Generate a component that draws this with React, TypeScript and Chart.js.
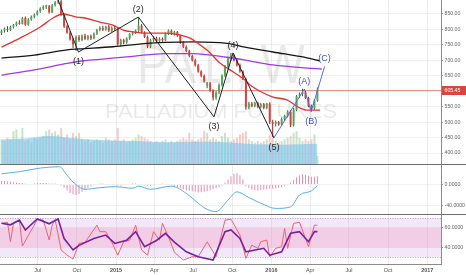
import React, { useEffect, useRef } from 'react';
import { Chart, registerables } from 'chart.js';

Chart.register(...registerables);

const FAMILY = 'Arial, "Liberation Sans", Helvetica, sans-serif';

// ---------------- data ----------------
const FIRST_WEEK = '2014-04-07';
const X_MIN = -0.51;
const X_MAX = 147.47;

const opens = [
  788, 796, 802, 798, 808, 814, 822, 818, 837, 815,
  832, 841, 848, 858, 868, 873, 876, 855, 878, 888,
  891, 847, 810, 790, 768, 752, 775, 766, 780, 770,
  778, 771, 786, 798, 805, 800, 809, 796, 805, 802,
  752, 765, 758, 771, 785, 790, 796, 812, 790, 776,
  745, 765, 772, 762, 770, 765, 786, 796, 786, 792,
  780, 758, 744, 730, 714, 700, 684, 664, 650, 618,
  626, 602, 580, 596, 620, 650, 680, 705, 716, 700,
  684, 664, 640, 548, 560, 552, 562, 550, 558, 546,
  560, 500, 494, 500, 492, 510, 520, 534, 490, 540,
  584, 590, 598, 578, 552, 545, 570,
];
const highs = [
  800, 806, 810, 812, 818, 826, 830, 840, 842, 836,
  845, 852, 862, 872, 878, 880, 879, 882, 892, 898,
  895, 852, 815, 795, 773, 780, 782, 784, 786, 782,
  784, 790, 802, 810, 812, 812, 814, 810, 812, 806,
  770, 770, 775, 788, 795, 800, 838, 818, 794, 780,
  770, 778, 776, 775, 774, 790, 800, 800, 796, 795,
  783, 762, 748, 734, 718, 705, 688, 668, 654, 630,
  630, 606, 600, 625, 655, 685, 710, 724, 720, 705,
  690, 668, 644, 566, 565, 566, 566, 562, 562, 563,
  564, 508, 505, 504, 515, 524, 538, 538, 546, 588,
  596, 608, 601, 582, 556, 575, 612,
];
const lows = [
  782, 790, 792, 795, 803, 810, 815, 816, 812, 812,
  828, 836, 845, 854, 863, 866, 852, 853, 874, 882,
  844, 805, 786, 764, 740, 730, 760, 762, 766, 765,
  766, 768, 782, 794, 795, 796, 792, 792, 796, 748,
  745, 752, 754, 767, 780, 785, 792, 788, 772, 740,
  740, 760, 757, 758, 760, 762, 782, 782, 780, 776,
  754, 740, 726, 710, 696, 680, 660, 645, 628, 610,
  598, 570, 572, 590, 615, 645, 675, 698, 696, 680,
  660, 636, 540, 542, 548, 548, 545, 545, 542, 542,
  494, 452, 486, 488, 488, 504, 515, 484, 486, 536,
  578, 584, 575, 548, 534, 540, 566,
];
const closes = [
  796, 802, 798, 808, 814, 822, 818, 836, 815, 832,
  841, 848, 858, 868, 873, 877, 855, 878, 888, 893,
  847, 810, 790, 768, 752, 775, 766, 780, 770, 778,
  771, 786, 798, 805, 800, 809, 796, 805, 802, 752,
  765, 758, 771, 785, 790, 796, 812, 790, 776, 745,
  765, 772, 762, 770, 765, 786, 796, 786, 792, 780,
  758, 744, 730, 714, 700, 684, 664, 650, 632, 626,
  602, 580, 596, 620, 650, 680, 705, 716, 700, 684,
  664, 640, 548, 560, 552, 562, 550, 558, 546, 560,
  500, 494, 500, 492, 510, 520, 534, 490, 540, 584,
  590, 598, 578, 552, 545, 570, 605.45,
];
const volumes = [
  15, 14, 16, 15, 20, 21, 15, 22, 14, 15,
  13, 16, 15, 16, 17, 20, 21, 19, 20, 18,
  22, 16, 18, 15, 19, 17, 19, 15, 14, 15,
  13, 14, 15, 14, 13, 16, 15, 14, 15, 22,
  14, 15, 13, 14, 15, 16, 18, 17, 16, 15,
  14, 13, 14, 13, 14, 15, 13, 14, 13, 14,
  15, 16, 15, 19, 15, 14, 15, 16, 20, 19,
  15, 16, 15, 14, 17, 19, 16, 14, 15, 16,
  18, 19, 20, 15, 14, 13, 14, 13, 14, 15,
  18, 16, 14, 13, 14, 15, 16, 17, 19, 20,
  16, 14, 15, 14, 15, 18, 5,
];
const volMaWeeks = [0, 8, 16, 25, 35, 45, 55, 65, 75, 85, 95, 106];
const volMaValues = [15, 15.5, 17, 15.5, 14.5, 14, 13.3, 13.5, 13.2, 12, 11.8, 12.3];

const redMaWeeks = [0, 6.2, 13, 17.3, 20.6, 25.3, 28, 33, 37.4, 40.8, 44, 48.8, 54.9, 59.9, 63.3, 66.6, 70, 73.3, 76.7, 81.7, 83.4, 86.7, 91.1, 95.8, 99.5, 102.5, 106.9];
const redMaValues = [743, 772, 808, 837, 850, 840, 837, 824, 814, 798, 792, 788, 788, 782, 772, 750, 724, 691, 669, 636, 620, 600, 581, 572, 549, 539, 539];
const blackMaWeeks = [0, 11, 22, 26.3, 37.4, 48.8, 54.9, 64.3, 75.7, 81.7, 91.1, 102.5, 106.9];
const blackMaValues = [707, 717, 734, 737, 744, 755, 758, 760, 755, 743, 727, 708, 698];
const purpleMaWeeks = [0, 11, 22, 26.3, 33, 44, 54.9, 64.3, 75.7, 81.7, 91.1, 102.5, 107.5];
const purpleMaValues = [652, 669, 690, 697, 703, 713, 722, 722, 710, 701, 685, 675, 672];

const waveWeeks = [18.8, 25.8, 45.9, 71.3, 77.7, 91.4];
const waveValues = [900, 727, 840, 517, 724, 449];
const waveLabels = ['', '(1)', '(2)', '(3)', '(4)', '(5)'];
const waveSides = [0, 1, -1, 1, -1, 1];
const abcWeeks = [91.4, 101.6, 103.9, 108.4];
const abcValues = [449, 607, 534, 680];
const abcLabels = ['', '(A)', '(B)', '(C)'];
const abcSides = [0, -1, 1, -1];

const LAST_PRICE = 605.45;
const priceTicks = [400, 450, 500, 550, 600, 650, 700, 750, 800, 850];

const macdWeeks = [0, 6, 13, 19.5, 22, 24, 28, 33, 38, 44, 46, 50, 57, 62, 66, 69, 72, 76, 79, 83, 87, 92, 97, 100, 104, 106];
const macdValues = [21, 25, 32, 34.5, 18, 5, -9, -6, -4, -7, -3, -9, -3, -17, -36, -48, -52, -30, -14, -25, -36, -46, -43, -20, -12, -2];
const macdHist = [
  7, 7, 6, 6, 5,
  4, 3, 3, 2, 1, 1,
  2, 3, 3, 3, 3, 2, 2, 2, 1,
  -2,
  -6, -11, -16, -19, -20, -18, -14, -10, -6,
  -3, -1, 1, 2, 2, 1, 0,
  1, -1, -2, -2, -1, 0, 1, 2, 2, 1, 0, -1, -2, -2, -1, 0, 1, 2, 1, 0, -1,
  -3, -5, -7, -9, -11, -12, -13, -14, -15, -15, -14, -13, -11, -9, -7, -5, -2,
  4, 10, 16, 21, 22, 18, 10,
  -3, -7, -10, -11, -12, -11, -10, -9, -8, -8, -7, -6, -5, -3, -1,
  4, 9, 14, 18, 20, 19, 17, 15, 15, 16,
];
const macdTicks = [-40, 0];

const rsiWeeks = [0, 2, 3, 4, 6, 7, 12, 14, 16, 17, 18, 20, 22, 24, 26, 28, 32, 33, 35, 37, 39, 41, 43, 45, 47, 49, 51, 53, 54, 56, 58, 61, 64, 66, 69, 72, 75, 77, 80, 82, 84, 86, 87, 89, 90, 92, 94, 95, 96, 98, 100, 103, 105, 106];
const rsiValues = [64.5, 65.5, 45.7, 64.5, 67.8, 41.3, 68.3, 67.8, 47.5, 62.7, 68.3, 37.3, 32, 28, 44, 45, 62.7, 56, 56, 45.4, 32, 45.7, 47.3, 62.7, 37.3, 32, 56, 47.3, 64.5, 50.8, 35, 27, 30.4, 30.4, 45.7, 30.4, 67.8, 68.7, 52.6, 28.8, 42.3, 39, 45.7, 47.4, 30.4, 39, 40.6, 59.4, 39, 64.5, 65.5, 40.6, 62.7, 62.5];
const rsiMaWeeks = [0, 3, 6, 8, 12, 16, 19, 21, 24, 26, 31, 35, 38, 42, 45, 48, 52, 55, 58, 62, 66, 71, 75, 77, 80, 82, 88, 90, 94, 97, 100, 103, 105, 106];
const rsiMaValues = [64.5, 63, 67.8, 57.7, 69, 64, 69, 49, 37.3, 42, 49, 52.5, 44, 47.3, 56, 40.6, 47, 54.3, 45.4, 35.5, 30.4, 27, 56, 57.7, 49, 35.5, 39, 32, 35.5, 54.3, 56, 45.7, 56, 56];
const rsiTicks = [40, 60];
const rsiOuterBand = [30, 70];
const rsiInnerBand = [40, 60];

const xTickDates = ['2014-07-01', '2014-10-01', '2015-01-01', '2015-04-01', '2015-07-01', '2015-10-01', '2016-01-01', '2016-04-01', '2016-07-01', '2016-10-01', '2017-01-01'];
const xTickLabels = ['Jul', 'Oct', '2015', 'Apr', 'Jul', 'Oct', '2016', 'Apr', 'Jul', 'Oct', '2017'];

const WATERMARK = 'PA1!, W';
const SUBTITLE = 'PALLADIUM FUTURES';

// ---------------- helpers ----------------
const weekOf = (d: string) => (Date.parse(d) - Date.parse(FIRST_WEEK)) / (7 * 86400000);
const pts = (xs: number[], ys: number[]) => xs.map((x, i) => ({ x, y: ys[i] }));
const weeks = closes.map((_, i) => i);
const isUp = (i: number) => closes[i] >= opens[i];

const AXIS_W = 25;

function xScale(withLabels: boolean) {
  return {
    type: 'linear',
    min: X_MIN,
    max: X_MAX,
    bounds: 'data',
    offset: false,
    afterBuildTicks: (s: any) => {
      s.ticks = xTickDates.map((d) => ({ value: weekOf(d) }));
    },
    afterFit: (s: any) => {
      s.height = withLabels ? 11 : 0;
      s.paddingLeft = 0;
      s.paddingRight = 0;
    },
    grid: { offset: false, color: 'rgba(0,0,0,0.075)', drawTicks: false },
    border: { display: withLabels, color: '#8c8c8c' },
    ticks: {
      display: withLabels,
      autoSkip: false,
      maxRotation: 0,
      minRotation: 0,
      padding: 3,
      color: '#555',
      font: (c: any) => ({
        size: 5.5,
        family: FAMILY,
        weight: /^\d/.test(xTickLabels[c.index] || '') ? 'bold' : 'normal',
      }),
      callback: (_v: any, i: number) => xTickLabels[i],
    },
  };
}

function yScale(min: number, max: number, ticks: number[], decimals: number) {
  return {
    position: 'right',
    min,
    max,
    bounds: 'data',
    afterBuildTicks: (s: any) => {
      s.ticks = ticks.map((v) => ({ value: v }));
    },
    afterFit: (s: any) => {
      s.width = AXIS_W;
      s.paddingTop = 0;
      s.paddingBottom = 0;
    },
    grid: { color: 'rgba(0,0,0,0.055)', tickColor: '#9a9a9a', tickLength: 2 },
    border: { display: true, color: '#8c8c8c' },
    ticks: {
      color: '#666',
      padding: 1.5,
      font: { size: 5.2, family: FAMILY },
      callback: (v: any) => Number(v).toFixed(decimals),
    },
  };
}

const baseOptions = {
  responsive: false,
  animation: false,
  devicePixelRatio: 1,
  events: [],
  layout: { padding: 0, autoPadding: false },
  plugins: { legend: { display: false }, tooltip: { enabled: false } },
};

function drawLabels(chart: any, xs: number[], ys: number[], labels: string[], sides: number[], color: string) {
  const { ctx } = chart;
  const xs_ = chart.scales.x;
  const ys_ = chart.scales.y;
  ctx.save();
  ctx.font = `9px ${FAMILY}`;
  ctx.fillStyle = color;
  ctx.textAlign = 'center';
  ctx.textBaseline = 'middle';
  labels.forEach((t, i) => {
    if (!t) return;
    const px = xs_.getPixelForValue(xs[i]);
    const py = ys_.getPixelForValue(ys[i]);
    ctx.fillText(t, px, py + (sides[i] > 0 ? 9.5 : -7.5));
  });
  ctx.restore();
}

const pricePlugin = {
  id: 'pricePane',
  beforeDatasetsDraw(chart: any) {
    const { ctx, chartArea: a } = chart;
    ctx.save();
    ctx.beginPath();
    ctx.rect(a.left, a.top, a.right - a.left, a.bottom - a.top);
    ctx.clip();
    const cx = (a.left + a.right) / 2 + 0.5;
    ctx.fillStyle = 'rgba(0,0,0,0.085)';
    ctx.textAlign = 'center';
    ctx.textBaseline = 'alphabetic';
    ctx.font = `56px ${FAMILY}`;
    let w = ctx.measureText(WATERMARK).width;
    ctx.save();
    ctx.translate(cx, a.top + 83);
    ctx.scale(168 / w, 1);
    ctx.fillText(WATERMARK, 0, 0);
    ctx.restore();
    ctx.font = `21px ${FAMILY}`;
    w = ctx.measureText(SUBTITLE).width;
    ctx.save();
    ctx.translate(cx, a.top + 118);
    ctx.scale(232 / w, 1);
    ctx.fillText(SUBTITLE, 0, 0);
    ctx.restore();
    // last price line
    const y = Math.round(chart.scales.y.getPixelForValue(LAST_PRICE)) + 0.5;
    ctx.strokeStyle = 'rgba(228,110,100,0.75)';
    ctx.lineWidth = 1;
    ctx.beginPath();
    ctx.moveTo(a.left, y);
    ctx.lineTo(a.right, y);
    ctx.stroke();
    ctx.restore();
  },
  afterDatasetsDraw(chart: any) {
    drawLabels(chart, waveWeeks, waveValues, waveLabels, waveSides, '#2a2a2a');
    drawLabels(chart, abcWeeks, abcValues, abcLabels, abcSides, '#3f4fc8');
  },
  afterDraw(chart: any) {
    const { ctx, chartArea: a } = chart;
    const y = chart.scales.y.getPixelForValue(LAST_PRICE);
    ctx.save();
    ctx.fillStyle = '#d6473e';
    ctx.fillRect(a.right + 1, Math.round(y) - 4, AXIS_W - 1, 9);
    ctx.fillStyle = '#fff';
    ctx.font = `5.2px ${FAMILY}`;
    ctx.textAlign = 'left';
    ctx.textBaseline = 'middle';
    ctx.fillText(LAST_PRICE.toFixed(2), a.right + 3.5, Math.round(y) + 0.5);
    ctx.restore();
  },
};

function priceConfig(): any {
  return {
    type: 'bar',
    data: {
      datasets: [
        { type: 'line', label: 'wave', data: pts(waveWeeks, waveValues), borderColor: '#1e1e1e', borderWidth: 1, pointRadius: 0, tension: 0, order: 0, yAxisID: 'y' },
        { type: 'line', label: 'abc', data: pts(abcWeeks, abcValues), borderColor: '#5865e8', borderWidth: 1, pointRadius: 0, tension: 0, order: 0, yAxisID: 'y' },
        { type: 'line', label: 'maRed', data: pts(redMaWeeks, redMaValues), borderColor: '#e53330', borderWidth: 1.3, pointRadius: 0, cubicInterpolationMode: 'monotone', order: 1, yAxisID: 'y' },
        { type: 'line', label: 'maBlack', data: pts(blackMaWeeks, blackMaValues), borderColor: '#161616', borderWidth: 1.3, pointRadius: 0, cubicInterpolationMode: 'monotone', order: 1, yAxisID: 'y' },
        { type: 'line', label: 'maPurple', data: pts(purpleMaWeeks, purpleMaValues), borderColor: '#9d3be8', borderWidth: 1.3, pointRadius: 0, cubicInterpolationMode: 'monotone', order: 1, yAxisID: 'y' },
        {
          type: 'bar', label: 'body', yAxisID: 'y', order: 2, grouped: false, barThickness: 2, inflateAmount: 0,
          data: weeks.map((i) => ({ x: i, y: [opens[i], closes[i]] })),
          backgroundColor: weeks.map((i) => (isUp(i) ? '#58a85c' : '#d3473f')),
        },
        {
          type: 'bar', label: 'wick', yAxisID: 'y', order: 3, grouped: false, barThickness: 1, inflateAmount: 0,
          data: weeks.map((i) => ({ x: i, y: [lows[i], highs[i]] })),
          backgroundColor: weeks.map((i) => (isUp(i) ? '#2c6a34' : '#7b2a22')),
        },
        {
          type: 'line', label: 'volMa', yAxisID: 'yv', order: 4, data: pts(volMaWeeks, volMaValues),
          fill: 'origin', backgroundColor: 'rgba(125,195,238,0.62)', borderWidth: 0, borderColor: 'rgba(0,0,0,0)',
          pointRadius: 0, cubicInterpolationMode: 'monotone',
        },
        {
          type: 'bar', label: 'volume', yAxisID: 'yv', order: 5, grouped: false, barThickness: 2, inflateAmount: 0,
          data: weeks.map((i) => ({ x: i, y: volumes[i] })),
          backgroundColor: weeks.map((i) => (isUp(i) ? 'rgba(120,190,120,0.42)' : 'rgba(232,130,130,0.42)')),
        },
      ],
    },
    options: {
      ...baseOptions,
      scales: {
        x: xScale(false),
        y: yScale(364.4, 895.3, priceTicks, 2),
        yv: { display: false, min: 0, max: 100 },
      },
    },
    plugins: [pricePlugin],
  };
}

function macdConfig(): any {
  return {
    type: 'bar',
    data: {
      datasets: [
        { type: 'line', label: 'macd', data: pts(macdWeeks, macdValues), borderColor: '#5aaee2', borderWidth: 1, pointRadius: 0, cubicInterpolationMode: 'monotone', order: 0 },
        {
          type: 'bar', label: 'hist', order: 1, grouped: false, barThickness: 1, inflateAmount: 0,
          data: weeks.map((i) => ({ x: i, y: macdHist[i] })),
          backgroundColor: '#e98bb0',
        },
      ],
    },
    options: {
      ...baseOptions,
      scales: {
        x: xScale(false),
        y: yScale(-56.8, 37.9, macdTicks, 4),
      },
    },
  };
}

const rsiPlugin = {
  id: 'rsiBands',
  beforeDatasetsDraw(chart: any) {
    const { ctx, chartArea: a } = chart;
    const y = chart.scales.y;
    ctx.save();
    const oT = y.getPixelForValue(rsiOuterBand[1]);
    const oB = y.getPixelForValue(rsiOuterBand[0]);
    ctx.fillStyle = 'rgba(190,120,230,0.18)';
    ctx.fillRect(a.left, oT, a.right - a.left, oB - oT);
    const iT = y.getPixelForValue(rsiInnerBand[1]);
    const iB = y.getPixelForValue(rsiInnerBand[0]);
    ctx.fillStyle = 'rgba(234,132,170,0.25)';
    ctx.fillRect(a.left, iT, a.right - a.left, iB - iT);
    ctx.strokeStyle = 'rgba(150,110,170,0.55)';
    ctx.lineWidth = 1;
    ctx.setLineDash([1, 1.5]);
    [oT, oB].forEach((p) => {
      ctx.beginPath();
      ctx.moveTo(a.left, Math.round(p) + 0.5);
      ctx.lineTo(a.right, Math.round(p) + 0.5);
      ctx.stroke();
    });
    ctx.restore();
  },
};

function rsiConfig(): any {
  return {
    type: 'line',
    data: {
      datasets: [
        { label: 'rsiMa', data: pts(rsiMaWeeks, rsiMaValues), borderColor: '#7b1fa2', borderWidth: 1.6, pointRadius: 0, tension: 0, order: 0 },
        { label: 'rsi', data: pts(rsiWeeks, rsiValues), borderColor: '#ef6272', borderWidth: 1, pointRadius: 0, tension: 0, order: 1 },
      ],
    },
    options: {
      ...baseOptions,
      scales: {
        x: xScale(true),
        y: yScale(23, 73, rsiTicks, 4),
      },
    },
    plugins: [rsiPlugin],
  };
}

export default function App() {
  const priceRef = useRef<HTMLCanvasElement>(null);
  const macdRef = useRef<HTMLCanvasElement>(null);
  const rsiRef = useRef<HTMLCanvasElement>(null);

  useEffect(() => {
    document.body.style.margin = '0';
    const charts = [
      new Chart(priceRef.current as HTMLCanvasElement, priceConfig()),
      new Chart(macdRef.current as HTMLCanvasElement, macdConfig()),
      new Chart(rsiRef.current as HTMLCanvasElement, rsiConfig()),
    ];
    return () => charts.forEach((c) => c.destroy());
  }, []);

  const divider = (top: number) => (
    <div style={{ position: 'absolute', left: 0, top, width: 466, height: 1, background: '#6e6e6e' }} />
  );

  return (
    <div style={{ position: 'absolute', left: 0, top: 0, width: 466, height: 275, background: '#fff', overflow: 'hidden' }}>
      <canvas ref={priceRef} width={466} height={164} style={{ position: 'absolute', left: 0, top: 0 }} />
      {divider(164)}
      <canvas ref={macdRef} width={466} height={49} style={{ position: 'absolute', left: 0, top: 165 }} />
      {divider(214)}
      <canvas ref={rsiRef} width={466} height={60} style={{ position: 'absolute', left: 0, top: 215 }} />
    </div>
  );
}
